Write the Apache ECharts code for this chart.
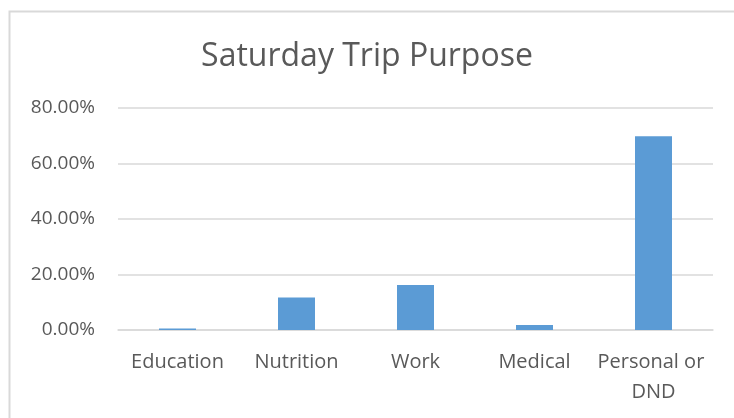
<!DOCTYPE html>
<html>
<head>
<meta charset="utf-8">
<script src="https://cdn.jsdelivr.net/npm/echarts@6/dist/echarts.min.js"></script>
<style>
html, body { margin: 0; padding: 0; background: #fff; }
#main { width: 734px; height: 418px; }
</style>
</head>
<body>
<div id="main"></div>
<script>
var titleText = 'Saturday Trip Purpose';
var categories = ['Education', 'Nutrition', 'Work', 'Medical', 'Personal or DND'];
var shares = [0.5, 11.7, 16.2, 1.8, 69.8];   // percent
var yTicks = { min: 0, max: 80, step: 20 };

var textColor = '#595959';
var lineColor = '#d9d9d9';
var font = '"Open Sans", sans-serif';

var myChart = echarts.init(document.getElementById('main'));

var option = {
	animation: false,
	title: {
		text: titleText,
		left: 'center',
		top: 36,
		textStyle: { color: textColor, fontFamily: font, fontSize: 32, fontWeight: 'normal' }
	},
	graphic: [{
		type: 'rect',
		left: 7, top: 9,
		shape: { width: 740, height: 420 },
		style: { fill: 'none', stroke: lineColor, lineWidth: 2 },
		silent: true
	}],
	grid: { left: 118, right: 21, top: 108, bottom: 88, containLabel: false },
	xAxis: {
		type: 'category',
		data: categories,
		axisLine: { lineStyle: { color: lineColor, width: 1.5 } },
		axisTick: { show: false },
		axisLabel: {
			color: textColor, fontFamily: font, fontSize: 20, margin: 17,
			interval: 0, width: 119, overflow: 'break', lineHeight: 30
		}
	},
	yAxis: {
		type: 'value',
		min: yTicks.min, max: yTicks.max, interval: yTicks.step,
		axisLine: { show: false },
		axisTick: { show: false },
		splitLine: { lineStyle: { color: lineColor, width: 1.5 } },
		axisLabel: {
			color: textColor, fontFamily: font, fontSize: 19, margin: 23,
			formatter: function (v) { return v.toFixed(2) + '%'; }
		}
	},
	series: [{
		type: 'bar',
		data: shares,
		barWidth: 37,
		itemStyle: { color: '#5b9bd5' }
	}]
};

myChart.setOption(option);
</script>
</body>
</html>
